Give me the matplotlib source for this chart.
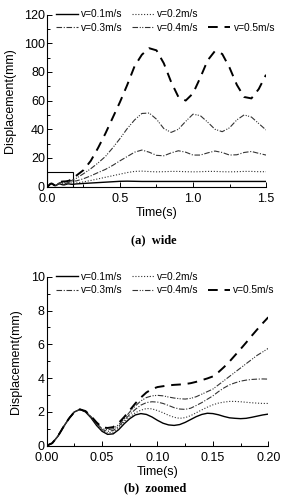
import numpy as np
import matplotlib
matplotlib.use("Agg")
import matplotlib.pyplot as plt
from matplotlib.patches import Rectangle
from matplotlib.lines import Line2D
from matplotlib.ticker import MultipleLocator

plt.rcParams['font.family'] = ['Liberation Sans', 'DejaVu Sans']

# ======================
# DATA
# ======================
labels = ["v=0.1m/s", "v=0.2m/s", "v=0.3m/s", "v=0.4m/s", "v=0.5m/s"]

# zoomed panel: 0 - 0.2 s, step 0.005
t_zoom = [0.000, 0.005, 0.010, 0.015, 0.020, 0.025, 0.030, 0.035, 0.040, 0.045,
          0.050, 0.055, 0.060, 0.065, 0.070, 0.075, 0.080, 0.085, 0.090, 0.095,
          0.100, 0.105, 0.110, 0.115, 0.120, 0.125, 0.130, 0.135, 0.140, 0.145,
          0.150, 0.155, 0.160, 0.165, 0.170, 0.175, 0.180, 0.185, 0.190, 0.195,
          0.200]
d01_zoom = [0, 0.15, 0.55, 1.1, 1.6, 2.0, 2.15, 2.0, 1.65, 1.2,
            0.85, 0.67, 0.7, 0.95, 1.3, 1.6, 1.82, 1.9, 1.85, 1.7,
            1.5, 1.33, 1.23, 1.2, 1.25, 1.38, 1.55, 1.72, 1.85, 1.92,
            1.9, 1.83, 1.73, 1.65, 1.62, 1.6, 1.62, 1.68, 1.75, 1.82,
            1.87]
d02_zoom = [0, 0.15, 0.55, 1.1, 1.6, 2.0, 2.15, 2.0, 1.68, 1.25,
            0.9, 0.76, 0.8, 1.05, 1.4, 1.7, 1.95, 2.1, 2.2, 2.18,
            2.08, 1.95, 1.8, 1.68, 1.62, 1.66, 1.78, 1.95, 2.12, 2.28,
            2.42, 2.52, 2.58, 2.62, 2.62, 2.6, 2.57, 2.54, 2.52, 2.5,
            2.5]
d03_zoom = [0, 0.15, 0.55, 1.1, 1.6, 2.0, 2.15, 2.02, 1.7, 1.3,
            0.95, 0.85, 0.9, 1.15, 1.5, 1.85, 2.15, 2.4, 2.55, 2.6,
            2.58, 2.5, 2.38, 2.25, 2.17, 2.15, 2.22, 2.38, 2.55, 2.75,
            2.95, 3.2, 3.42, 3.6, 3.72, 3.82, 3.88, 3.92, 3.94, 3.95,
            3.94]
d04_zoom = [0, 0.15, 0.55, 1.1, 1.6, 2.0, 2.15, 2.03, 1.72, 1.33,
            1.0, 0.95, 1.0, 1.25, 1.6, 2.0, 2.35, 2.65, 2.85, 2.95,
            2.98, 2.95, 2.88, 2.82, 2.78, 2.76, 2.8, 2.9, 3.05, 3.2,
            3.35, 3.6, 3.85, 4.1, 4.35, 4.6, 4.85, 5.1, 5.35, 5.55,
            5.76]
d05_zoom = [0, 0.15, 0.55, 1.1, 1.6, 2.0, 2.15, 2.05, 1.75, 1.38,
            1.08, 1.05, 1.1, 1.35, 1.7, 2.1, 2.5, 2.85, 3.15, 3.35,
            3.47, 3.52, 3.57, 3.6, 3.62, 3.65, 3.7, 3.78, 3.88, 3.98,
            4.1, 4.35, 4.65, 4.98, 5.35, 5.72, 6.1, 6.5, 6.88, 7.25,
            7.6]

# wide panel continuation: 0.25 - 1.5 s, step 0.05
t_wide = [0.25, 0.30, 0.35, 0.40, 0.45, 0.50, 0.55, 0.60, 0.65, 0.70,
          0.75, 0.80, 0.85, 0.90, 0.95, 1.00, 1.05, 1.10, 1.15, 1.20,
          1.25, 1.30, 1.35, 1.40, 1.45, 1.50]
d01_wide = [2.2, 2.5, 2.8, 3.1, 3.4, 3.7, 3.8, 3.7, 3.6, 3.6,
            3.6, 3.6, 3.6, 3.6, 3.6, 3.6, 3.6, 3.6, 3.6, 3.6,
            3.6, 3.6, 3.6, 3.6, 3.6, 3.6]
d02_wide = [3.3, 4.3, 5.4, 6.5, 7.6, 8.7, 9.8, 10.6, 10.8, 10.5,
            10.3, 10.4, 10.6, 10.6, 10.4, 10.3, 10.4, 10.6, 10.6, 10.4,
            10.3, 10.4, 10.6, 10.6, 10.4, 10.4]
d03_wide = [5.5, 7.5, 9.8, 12.0, 14.8, 18.0, 21.0, 24.0, 25.5, 24.0,
            21.8, 21.5, 23.5, 25.0, 24.0, 22.0, 22.0, 23.5, 24.8, 23.8,
            22.0, 22.2, 23.8, 24.5, 23.2, 22.0]
d04_wide = [9.0, 12.5, 16.5, 21.0, 27.0, 33.5, 40.5, 46.5, 51.0, 51.3,
            47.0, 40.5, 37.8, 40.0, 45.5, 50.5, 49.5, 45.0, 40.0, 38.3,
            41.0, 46.5, 50.0, 48.5, 44.0, 39.5]
d05_wide = [11.5, 18.0, 27.0, 37.0, 48.0, 59.0, 71.0, 84.0, 92.0, 96.5,
            95.0, 86.0, 73.0, 62.5, 60.0, 65.0, 76.0, 88.0, 94.5, 92.5,
            83.0, 71.0, 62.5, 61.5, 68.0, 78.0]

zoom_data = [d01_zoom, d02_zoom, d03_zoom, d04_zoom, d05_zoom]
wide_data = [d01_wide, d02_wide, d03_wide, d04_wide, d05_wide]

# ======================
# STYLES
# ======================
styles = [
    dict(color="black", lw=1.0, ls="-"),
    dict(color="#333333", lw=0.8, ls=(0, (1, 1.6))),
    dict(color="#333333", lw=0.8, ls=(0, (5, 1.5, 1, 1.5))),
    dict(color="#333333", lw=0.8, ls=(0, (5, 1.5, 1, 1.2, 1, 1.5))),
    dict(color="black", lw=1.4, ls=(0, (5, 3.5))),
]


def style_axes(ax):
    for s in ["top", "right"]:
        ax.spines[s].set_visible(False)
    for s in ["left", "bottom"]:
        ax.spines[s].set_linewidth(0.8)
    ax.tick_params(which="both", direction="in", labelsize=9, width=0.7)
    ax.tick_params(axis="x", pad=4.8)
    ax.tick_params(axis="y", pad=1.5)
    ax.tick_params(which="major", length=3.5)
    ax.tick_params(which="minor", length=2)
    ax.set_xlabel("Time(s)", fontsize=9, labelpad=1)
    ax.set_ylabel("Displacement(mm)", fontsize=9, labelpad=6)


def add_legend(ax, handles):
    blank = Line2D([], [], color="none")
    h = [handles[0], handles[2], handles[1], handles[3], blank, handles[4]]
    l = [labels[0], labels[2], labels[1], labels[3], "", labels[4]]
    ax.legend(h, l, ncol=3, loc="upper left", bbox_to_anchor=(0.041, 1.03),
              frameon=False, fontsize=7.3, handlelength=2.17, handletextpad=0.3,
              columnspacing=0.95, labelspacing=0.36, borderaxespad=0, borderpad=0)


fig = plt.figure(figsize=(2.83, 4.95), dpi=100)

# ---------- (a) wide ----------
ax1 = fig.add_axes([0.166, 0.623, 0.774, 0.3477])
hs = []
for dz, dw, st in zip(zoom_data, wide_data, styles):
    h, = ax1.plot(np.concatenate([t_zoom, t_wide]), np.concatenate([dz, dw]), **st)
    hs.append(h)
ax1.add_patch(Rectangle((0, 0), 0.175, 10.2, fill=False, lw=0.8, ec="black"))
ax1.set_xlim(0, 1.5)
ax1.set_ylim(0, 120)
ax1.set_xticks([0.0, 0.5, 1.0, 1.5])
ax1.set_xticklabels(["0.0", "0.5", "1.0", "1.5"])
ax1.xaxis.set_minor_locator(MultipleLocator(0.25))
ax1.set_yticks(range(0, 121, 20))
ax1.yaxis.set_minor_locator(MultipleLocator(10))
style_axes(ax1)
add_legend(ax1, hs)
fig.text(0.545, 0.515, "(a)  wide", ha="center", va="center",
         family="Liberation Serif", weight="bold", fontsize=9)

# ---------- (b) zoomed ----------
ax2 = fig.add_axes([0.165, 0.0996, 0.783, 0.3414])
hs = []
for dz, st in zip(zoom_data, styles):
    h, = ax2.plot(t_zoom, dz, **st)
    hs.append(h)
ax2.set_xlim(0, 0.2)
ax2.set_ylim(0, 10)
ax2.set_xticks([0.0, 0.05, 0.10, 0.15, 0.20])
ax2.set_xticklabels(["0.00", "0.05", "0.10", "0.15", "0.20"])
ax2.xaxis.set_minor_locator(MultipleLocator(0.025))
ax2.set_yticks(range(0, 11, 2))
ax2.yaxis.set_minor_locator(MultipleLocator(1))
style_axes(ax2)
add_legend(ax2, hs)
fig.text(0.548, 0.014, "(b)  zoomed", ha="center", va="center",
         family="Liberation Serif", weight="bold", fontsize=9)

fig.savefig("out.png", dpi=100)
